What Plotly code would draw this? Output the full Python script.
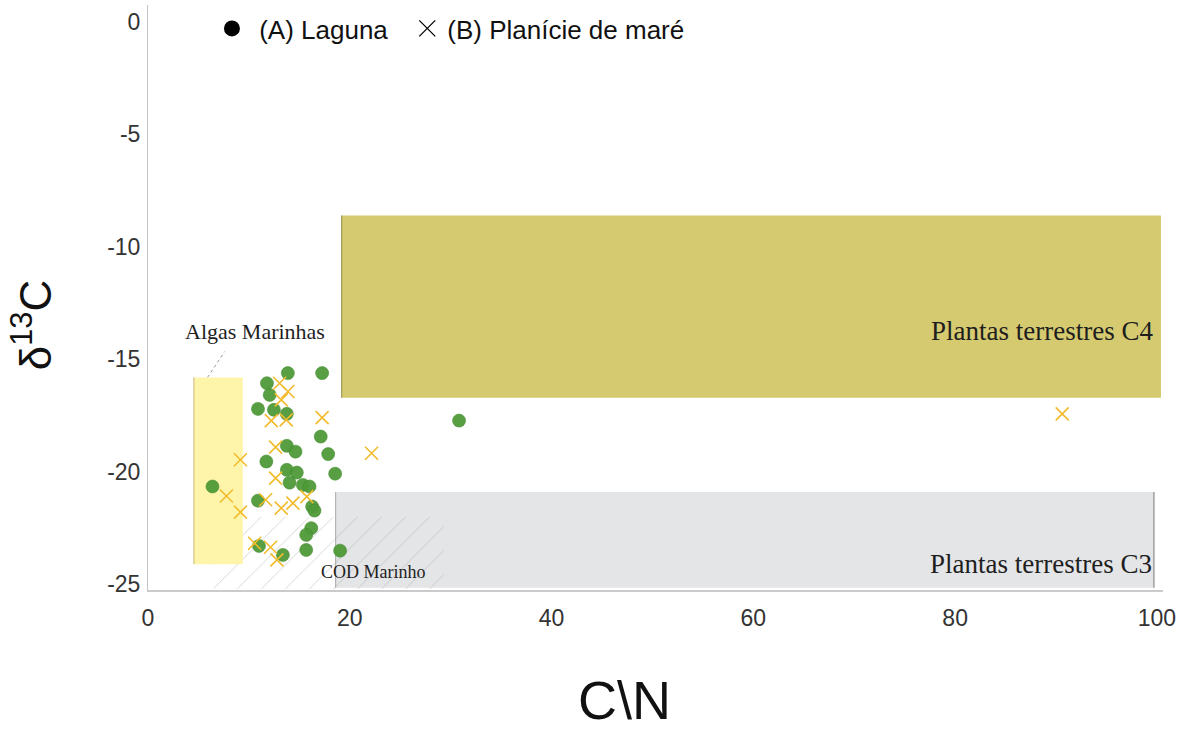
import plotly.graph_objects as go

# C/N ratio and δ13C (‰) for each sample group
laguna_cn = [13.86, 17.26, 11.79, 12.06, 10.90, 12.48, 13.76, 17.12, 13.76, 14.62,
             17.86, 11.73, 13.76, 14.75, 18.55, 14.03, 15.35, 16.01, 6.39, 10.90,
             16.27, 16.50, 16.18, 15.68, 11.00, 13.37, 15.68, 19.04, 30.83]
laguna_d13c = [-15.61, -15.61, -16.06, -16.58, -17.20, -17.24, -17.42, -18.43, -18.84, -19.10,
               -19.21, -19.54, -19.91, -20.03, -20.08, -20.48, -20.58, -20.65, -20.65, -21.28,
               -21.54, -21.72, -22.50, -22.80, -23.29, -23.69, -23.47, -23.50, -17.72]

planicie_cn = [13.04, 13.87, 13.21, 12.22, 13.70, 17.26, 12.65, 9.16, 22.16, 12.65,
               7.77, 9.16, 11.66, 13.21, 14.36, 15.74, 10.57, 12.15, 12.78, 90.61]
planicie_d13c = [-16.06, -16.43, -16.80, -17.72, -17.69, -17.59, -18.90, -19.46, -19.17, -20.28,
                 -21.07, -21.79, -21.24, -21.61, -21.39, -21.10, -23.17, -23.35, -23.91, -17.42]

# Source end-member fields: (C/N min, C/N max, δ13C min, δ13C max)
c4_field = (19.2, 100.4, -16.7, -8.6)
c3_field = (18.6, 99.7, -25.15, -20.9)
algas_field = (4.55, 9.4, -24.1, -15.8)
cod_field = (6.5, 29.3, -25.2, -22.0)

x_ticks = [0, 20, 40, 60, 80, 100]
y_ticks = [0, -5, -10, -15, -20, -25]
y_tick_text = ["0", "-5", "-10", "-15", "-20", "-25"]

GREEN = "#4f9a38"
GOLD = "#f2bb2c"
SERIF = "Liberation Serif, Times New Roman, serif"
SANS = "Liberation Sans, Arial, sans-serif"
NBSP = "\u00a0"


def box(field):
    x0, x1, y0, y1 = field
    return [x0, x1, x1, x0, x0], [y0, y0, y1, y1, y0]


fig = go.Figure()

# hatched marine DOC field (drawn above the C3 field)
hx, hy = box(cod_field)
fig.add_trace(go.Scatter(
    x=hx, y=hy, mode="lines", fill="toself", line=dict(width=0),
    fillcolor="rgba(0,0,0,0)",
    fillpattern=dict(shape="/", size=17, solidity=0.04, fgcolor="#a0a0a0", fgopacity=0.6),
    hoverinfo="skip", showlegend=False))

# marine algae field
ax, ay = box(algas_field)
fig.add_trace(go.Scatter(
    x=ax, y=ay, mode="lines", fill="toself", fillcolor="#fff5aa",
    line=dict(width=0), hoverinfo="skip", showlegend=False))

# sample points
fig.add_trace(go.Scatter(
    x=laguna_cn, y=laguna_d13c, mode="markers",
    marker=dict(symbol="circle", size=13, color=GREEN, opacity=0.95,
                line=dict(width=0.6, color="#3f8a2c")),
    showlegend=False))
fig.add_trace(go.Scatter(
    x=planicie_cn, y=planicie_d13c, mode="markers",
    marker=dict(symbol="x-thin-open", size=13, color=GOLD,
                line=dict(width=1.6, color=GOLD)),
    showlegend=False))

# legend entries (black symbols)
fig.add_trace(go.Scatter(
    x=[None], y=[None], mode="markers", name=NBSP + "(A) Laguna" + NBSP * 2,
    marker=dict(symbol="circle", size=19, color="black")))
fig.add_trace(go.Scatter(
    x=[None], y=[None], mode="markers", name="(B) Planície de maré",
    marker=dict(symbol="x-thin-open", size=24, color="black",
                line=dict(width=1.3, color="black"))))

shapes = []
# C4 field
x0, x1, y0, y1 = c4_field
shapes.append(dict(type="rect", layer="below", x0=x0, x1=x1, y0=y0, y1=y1,
                   fillcolor="#d5ca70", line=dict(width=0)))
shapes.append(dict(type="line", layer="below", x0=x0, x1=x0, y0=y0, y1=y1,
                   line=dict(width=1.2, color="#9d9650")))
# C3 field
x0, x1, y0, y1 = c3_field
shapes.append(dict(type="rect", layer="below", x0=x0, x1=x1, y0=y0, y1=y1,
                   fillcolor="#e4e5e7", line=dict(width=0)))
shapes.append(dict(type="line", layer="below", x0=x0, x1=x0, y0=y0, y1=y1,
                   line=dict(width=1, color="#a8a8a8")))
shapes.append(dict(type="line", layer="below", x0=x1, x1=x1, y0=y0, y1=y1,
                   line=dict(width=1.2, color="#8c8c8c")))
# algae field edge and hatch stroke above it
x0, x1, y0, y1 = algas_field
shapes.append(dict(type="line", layer="above", x0=x0, x1=x0, y0=y0, y1=y1,
                   line=dict(width=1, color="#cdb77a")))
shapes.append(dict(type="line", layer="below", x0=5.9, x1=7.6, y0=-15.8, y1=-14.65,
                   line=dict(width=1, color="#9a9a9a", dash="dot")))

annotations = [
    dict(x=99.8, y=-13.75, xref="x", yref="y", text="Plantas terrestres C4",
         xanchor="right", yanchor="middle", showarrow=False,
         font=dict(family=SERIF, size=27, color="#1e1e1e")),
    dict(x=99.7, y=-24.1, xref="x", yref="y", text="Plantas terrestres C3",
         xanchor="right", yanchor="middle", showarrow=False,
         font=dict(family=SERIF, size=27, color="#1e1e1e")),
    dict(x=10.6, y=-13.75, xref="x", yref="y", text="Algas Marinhas",
         xanchor="center", yanchor="middle", showarrow=False,
         font=dict(family=SERIF, size=22, color="#1e1e1e")),
    dict(x=22.3, y=-24.45, xref="x", yref="y", text="COD Marinho",
         xanchor="center", yanchor="middle", showarrow=False,
         font=dict(family=SERIF, size=18, color="#1e1e1e")),
    dict(x=0.4696, y=-0.188, xref="paper", yref="paper", text="C\\N",
         xanchor="center", yanchor="middle", showarrow=False,
         font=dict(family=SANS, size=54, color="#111")),
    dict(x=-0.114, y=0.453, xref="paper", yref="paper", text="δ<sup>13</sup>C",
         textangle=-90, xanchor="center", yanchor="middle", showarrow=False,
         font=dict(family=SANS, size=44, color="#111")),
]

fig.update_layout(
    width=1181, height=734,
    margin=dict(l=148, r=15, t=5, b=144),
    paper_bgcolor="white", plot_bgcolor="white",
    shapes=shapes, annotations=annotations,
    legend=dict(orientation="h", x=0.063, y=1.0, xanchor="left", yanchor="top",
                font=dict(family=SANS, size=26, color="#111"),
                bgcolor="rgba(0,0,0,0)", itemsizing="trace"),
    xaxis=dict(range=[0, 100.6], tickvals=x_ticks, ticks="", showgrid=False,
               zeroline=False, showline=True, linecolor="#cbcbcb", linewidth=2,
               tickfont=dict(family=SANS, size=23, color="#333"),
               ticklabelstandoff=6),
    yaxis=dict(range=[-25.25, 0.75], tickvals=y_ticks, ticktext=y_tick_text,
               ticks="", showgrid=False,
               zeroline=False, showline=True, linecolor="#c4c4c4", linewidth=1,
               tickfont=dict(family=SANS, size=23, color="#333"),
               ticklabelstandoff=2),
)

fig.write_html("out.html")
